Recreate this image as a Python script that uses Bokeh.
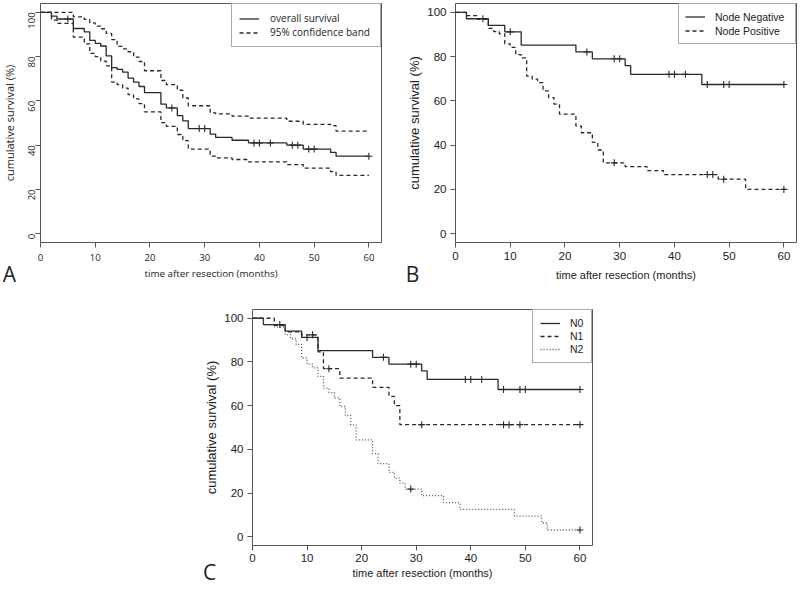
import math
from bokeh.plotting import figure
from bokeh.models import FixedTicker, Legend, LegendItem, Label, Range1d, Spacer
from bokeh.layouts import column, row
from bokeh.embed import file_html
from bokeh.resources import INLINE

# ---------------- data ----------------
FOLLOW_UP_END = 60
X_TICKS = [0, 10, 20, 30, 40, 50, 60]
Y_TICKS = [0, 20, 40, 60, 80, 100]

# Panel A: overall survival and its 95% confidence band (step times in months)
A_TIMES = [0, 2, 3, 6, 8, 9, 10, 11, 12, 13, 14, 15, 16, 17, 18, 19, 22, 23, 25, 26, 27, 31, 32, 35, 38, 45, 48, 53, 54]
A_OVERALL = [100, 98.3, 97.0, 92.7, 91.2, 87.3, 86.0, 84.8, 80.3, 75.0, 74.2, 73.0, 70.3, 68.5, 66.5, 63.7, 58.5, 56.8,
             53.3, 51.0, 47.5, 45.0, 43.5, 42.2, 41.0, 40.0, 38.2, 36.7, 35.0]
A_UPPER = [100, 100, 100, 98.0, 96.8, 95.2, 93.8, 92.6, 90.5, 87.7, 84.6, 83.5, 82.2, 79.8, 77.8, 73.6, 69.2, 67.3,
           64.8, 61.3, 57.8, 54.6, 54.1, 53.1, 52.2, 50.8, 49.4, 48.8, 46.3]
A_LOWER = [100, 96.5, 95.0, 88.8, 85.8, 81.5, 80.0, 78.0, 75.8, 68.5, 67.3, 65.8, 62.8, 60.9, 58.8, 55.0, 50.2, 48.5,
           44.8, 42.0, 38.2, 35.0, 34.2, 33.5, 32.4, 31.2, 29.6, 28.0, 26.3]
A_CENSOR = [5, 24, 29, 30, 39, 40, 42, 46, 47, 49, 50, 60]

# Node negative (panel B) = N0 (panel C)
NEG_TIMES = [0, 2, 6, 9, 12, 22, 25, 31, 32, 45]
NEG_SURV = [100, 97.1, 94.1, 91.2, 85.2, 82.1, 79.0, 75.9, 72.0, 67.4]
NEG_CENSOR = [5, 10, 24, 29, 30, 39, 40, 42, 46, 49, 50, 60]

# Node positive (panel B)
POS_TIMES = [0, 2, 4, 6, 7, 8, 9, 10, 11, 12, 13, 14, 15, 16, 17, 18, 19, 22, 23, 25, 26, 27, 31, 35, 38, 48, 53]
POS_SURV = [100, 98.5, 96.8, 92.8, 91.3, 90.3, 85.8, 84.2, 80.9, 79.4, 71.2, 69.8, 68.2, 64.5, 61.5, 58.5, 54.0,
            48.6, 45.6, 41.2, 37.8, 32.0, 30.3, 28.5, 26.7, 24.6, 20.0]
POS_CENSOR = [29, 46, 47, 49, 60]

# N1 and N2 (panel C)
N1_TIMES = [0, 4, 6, 9, 12, 13, 16, 22, 25, 26, 27]
N1_SURV = [100, 96.8, 93.8, 92.4, 84.6, 76.9, 72.6, 68.4, 64.2, 60.0, 51.3]
N1_CENSOR = [11, 14, 31, 46, 47, 49, 60]

N2_TIMES = [0, 2, 4, 6, 7, 8, 9, 10, 11, 12, 13, 14, 15, 16, 17, 18, 19, 22, 23, 25, 26, 27, 28, 31, 35, 38, 48, 53, 54]
N2_SURV = [100, 97.0, 96.0, 92.5, 90.6, 88.0, 81.8, 79.0, 77.3, 73.4, 68.0, 66.0, 63.5, 59.6, 55.5, 51.2, 44.3,
           38.0, 33.5, 29.5, 26.8, 24.5, 21.8, 18.8, 15.6, 12.5, 9.4, 6.3, 3.1]
N2_CENSOR = [29, 60]

X_LABEL = "time after resection (months)"
Y_LABEL = "cumulative survival (%)"

# ---------------- styling ----------------
X_RANGE = (0, 62.3)
Y_RANGE = (-4, 104)
FRAME = "#555555"
INK = "#2a2a2a"
TEXT = "#222222"
MYRIAD = "Open Sans"
ARIAL = "Liberation Sans"


def surv_at(times, surv, t):
    v = surv[0]
    for ti, si in zip(times, surv):
        if ti <= t:
            v = si
    return v


def add_curve(p, times, surv, dash, color=INK, width=1.3):
    xs = list(times) + [FOLLOW_UP_END]
    ys = list(surv) + [surv[-1]]
    return p.step(x=xs, y=ys, mode="after", line_color=color, line_width=width, line_dash=dash)


def add_censors(p, times, surv, censor, color=INK):
    p.scatter(x=censor, y=[surv_at(times, surv, c) for c in censor], marker="cross",
              size=7, line_color=color, line_width=1.1)


def panel(width, height, mb, font, tick_size, label_size, rotate_y, tick_standoff, x_label_standoff):
    p = figure(width=width, height=height, output_backend="svg", toolbar_location=None, title=None,
               x_range=Range1d(*X_RANGE), y_range=Range1d(*Y_RANGE),
               min_border_left=mb[0], min_border_right=mb[1], min_border_top=mb[2], min_border_bottom=mb[3])
    p.grid.visible = False
    p.outline_line_color = FRAME
    p.outline_line_width = 1
    p.border_fill_color = "white"
    p.background_fill_color = "white"
    p.xaxis.ticker = FixedTicker(ticks=X_TICKS)
    p.yaxis.ticker = FixedTicker(ticks=Y_TICKS)
    p.xaxis.axis_label = X_LABEL
    p.yaxis.axis_label = None
    for ax, ts in ((p.xaxis[0], tick_standoff[0]), (p.yaxis[0], tick_standoff[1])):
        ax.axis_line_color = None
        ax.major_tick_line_color = FRAME
        ax.major_tick_out = 5
        ax.major_tick_in = 0
        ax.minor_tick_line_color = None
        ax.major_label_text_font = font
        ax.major_label_text_font_size = tick_size
        ax.major_label_text_color = TEXT
        ax.axis_label_text_font = font
        ax.axis_label_text_font_size = label_size
        ax.axis_label_text_font_style = "normal"
        ax.axis_label_text_color = TEXT
        ax.major_label_standoff = ts
    p.xaxis[0].axis_label_standoff = x_label_standoff
    if rotate_y:
        p.yaxis[0].major_label_orientation = math.pi / 2
    return p


def gutter(width, height, letter, letter_x, letter_standoff, ylab_x, font, label_size):
    """Narrow strip left of a panel: holds the y-axis title (centred on the frame) and the panel letter."""
    g = figure(width=width, height=height, output_backend="svg", toolbar_location=None, title=None,
               x_range=Range1d(0, width), y_range=Range1d(0, 1), min_border=0,
               x_axis_location="below", y_axis_location=None)
    g.grid.visible = False
    g.outline_line_color = None
    g.border_fill_color = "white"
    g.background_fill_color = "white"
    ax = g.xaxis[0]
    ax.ticker = FixedTicker(ticks=[letter_x])
    ax.major_label_overrides = {letter_x: letter}
    ax.axis_line_color = None
    ax.major_tick_line_color = None
    ax.minor_tick_line_color = None
    ax.major_tick_out = 0
    ax.major_tick_in = 0
    ax.major_label_standoff = letter_standoff
    ax.major_label_text_font = MYRIAD
    ax.major_label_text_font_size = "21px"
    ax.major_label_text_color = TEXT
    g.add_layout(Label(x=ylab_x, y=0.5, text=Y_LABEL, angle=math.pi / 2,
                       text_font=font, text_font_size=label_size, text_color=TEXT,
                       text_align="center", text_baseline="middle"))
    return g


def add_legend(p, items, font, size, padding, label_height, spacing, label_width, standoff):
    leg = Legend(items=[LegendItem(label=lab, renderers=[r]) for lab, r in items],
                 location="top_right", margin=0, padding=padding, spacing=spacing,
                 label_height=label_height, glyph_height=label_height, glyph_width=20,
                 label_standoff=standoff, label_width=label_width,
                 border_line_color=FRAME, border_line_width=1, background_fill_color="white",
                 background_fill_alpha=1, label_text_font=font, label_text_font_size=size,
                 label_text_color=TEXT)
    p.add_layout(leg)


TOP_H = 290
BOT_H = 298

# ---------------- Panel A ----------------
gA = gutter(18, TOP_H, "A", 9, 17, 9, MYRIAD, "11px")
pA = panel(386, TOP_H, (22, 23, 3, 46), MYRIAD, "9.6px", "9.8px", True, (6, 4), 3)
rA = add_curve(pA, A_TIMES, A_OVERALL, "solid")
rAu = add_curve(pA, A_TIMES, A_UPPER, "4 3")
add_curve(pA, A_TIMES, A_LOWER, "4 3")
add_censors(pA, A_TIMES, A_OVERALL, A_CENSOR)
add_legend(pA, [("overall survival", rA), ("95% confidence band", rAu)], MYRIAD, "10px", 7, 13, 0, 103, 11)

# ---------------- Panel B ----------------
gB = gutter(20, TOP_H, "B", 8, 17, 10, ARIAL, "13px")
pB = panel(374, TOP_H, (29, 2, 3, 46), ARIAL, "11.5px", "11px", False, (4, 4), 6)
rBn = add_curve(pB, NEG_TIMES, NEG_SURV, "solid")
rBp = add_curve(pB, POS_TIMES, POS_SURV, "4 3")
add_censors(pB, NEG_TIMES, NEG_SURV, NEG_CENSOR)
add_censors(pB, POS_TIMES, POS_SURV, POS_CENSOR)
add_legend(pB, [("Node Negative", rBn), ("Node Positive", rBp)], ARIAL, "10.5px", 6, 13, 1, 74, 10)

# ---------------- Panel C ----------------
gC = gutter(20, BOT_H, "C", 8, 12, 10, ARIAL, "13px")
pC = panel(373, BOT_H, (29, 2, 19, 41), ARIAL, "11.5px", "11px", False, (3, 4), 2)
rC0 = add_curve(pC, NEG_TIMES, NEG_SURV, "solid")
rC1 = add_curve(pC, N1_TIMES, N1_SURV, "4 3")
rC2 = add_curve(pC, N2_TIMES, N2_SURV, "1 2", color="#555555")
add_censors(pC, NEG_TIMES, NEG_SURV, NEG_CENSOR)
add_censors(pC, N1_TIMES, N1_SURV, N1_CENSOR)
add_censors(pC, N2_TIMES, N2_SURV, N2_CENSOR)
add_legend(pC, [("N0", rC0), ("N1", rC1), ("N2", rC2)], ARIAL, "10.5px", 7, 12, 1, 14, 10)

layout = column(row(gA, pA, gB, pB), row(Spacer(width=201, height=BOT_H), gC, pC))

open("out.html", "w").write(file_html(layout, INLINE, title="Survival"))
